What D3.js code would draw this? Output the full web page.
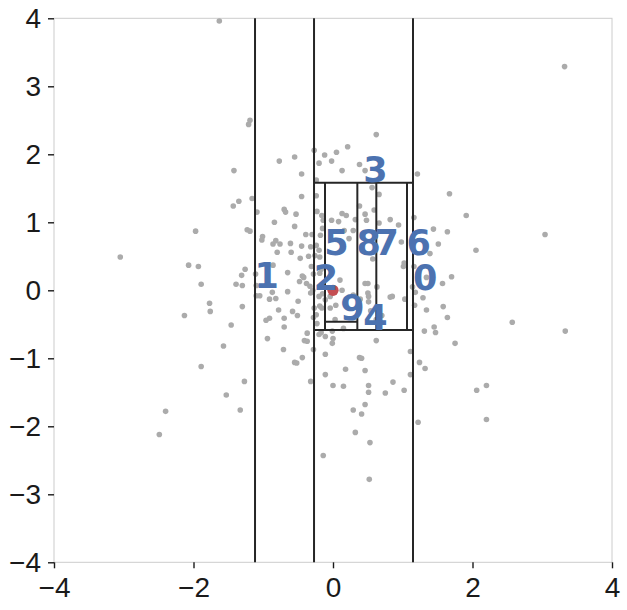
<!DOCTYPE html>
<html><head><meta charset="utf-8">
<script src="https://cdn.jsdelivr.net/npm/d3@7"></script>
<style>body{margin:0;background:#fff}</style>
</head><body><div id="chart"></div>
<script>
// ---- data ----
const grayPoints = [
[-1.63,3.96],[-1.21,2.44],[-1.19,2.50],[-1.42,1.76],[-1.43,1.24],[-1.35,1.31],[-1.16,1.35],[-1.09,1.15],[-0.77,1.90],[-0.55,1.96],
[-0.45,1.71],[-0.45,1.38],[-0.70,1.19],[-0.68,1.15],[-0.53,1.12],[-0.84,1.00],[-0.55,0.94],[-0.39,0.82],[-0.30,0.82],[-1.97,0.87],
[-1.23,0.89],[-1.19,0.87],[-1.01,0.79],[-1.02,0.74],[-0.82,0.73],[-0.86,0.68],[-0.76,0.68],[-0.61,0.69],[-0.45,0.65],[-0.32,0.64],
[-0.80,0.56],[-0.60,0.56],[-0.47,0.47],[-0.35,0.50],[-3.05,0.49],[-2.07,0.37],[-1.93,0.35],[-1.89,0.09],[-1.26,0.31],[-1.31,0.22],
[-1.39,0.09],[-1.30,0.07],[-1.11,0.24],[-1.10,0.07],[-0.86,0.37],[-0.65,0.26],[-0.44,0.21],[-0.42,0.19],[-0.48,0.13],[-0.38,0.10],
[-0.33,0.06],[-0.87,-0.03],[-0.65,-0.02],[-1.10,-0.08],[-1.05,-0.08],[-0.91,-0.13],[-0.82,-0.12],[-0.50,-0.16],[-0.32,-0.04],[-1.30,-0.24],
[-1.77,-0.19],[-1.76,-0.31],[-2.13,-0.37],[-1.46,-0.51],[-1.57,-0.82],[-1.89,-1.12],[-1.27,-1.34],[-1.53,-1.54],[-1.33,-1.76],[-2.40,-1.78],
[-2.49,-2.12],[-0.78,-0.29],[-0.58,-0.31],[-0.51,-0.37],[-0.96,-0.44],[-0.91,-0.41],[-0.70,-0.41],[-0.70,-0.54],[-0.94,-0.71],[-0.71,-0.87],
[-0.41,-0.74],[-0.37,-0.75],[-0.44,-0.99],[-0.55,-1.06],[-0.52,-1.07],[-0.32,-1.34],[-0.37,-0.63],[-0.28,-0.87],[-0.28,-0.40],[-0.27,-0.26],
[-0.19,-0.23],[-0.23,-0.49],[-0.20,-0.65],[-0.17,-0.62],
[-0.27,2.06],[-0.20,1.87],[-0.12,1.99],[-0.02,1.90],[0.05,2.03],[0.21,2.11],[0.13,1.76],[0.38,1.85],[0.46,1.76],[0.62,2.29],
[0.56,1.51],[0.66,1.41],[1.21,1.71],[-0.24,1.62],[-0.24,1.39],[0.38,1.24],[0.59,1.18],[0.46,1.12],[0.48,1.03],[0.32,1.04],
[0.13,1.13],[0.19,1.10],[-0.02,1.03],[0.08,1.01],[-0.23,1.16],[-0.16,1.10],[-0.14,1.03],[0.66,0.99],[0.82,1.04],[0.94,0.96],
[0.23,0.76],[0.29,0.88],[0.16,0.88],[-0.15,0.91],[-0.24,0.66],[-0.20,0.59],[-0.26,0.51],[-0.19,0.49],[-0.17,0.31],[-0.18,0.81],
[-0.31,0.35],[-0.28,0.24],[-0.19,0.25],[-0.29,0.00],[0.10,0.15],[0.13,0.00],[0.46,0.10],[0.50,0.10],[0.63,0.05],[0.50,-0.04],
[0.51,-0.09],[0.57,0.46],[-0.15,-0.05],[-0.20,-0.09],[-0.04,-0.09],
[1.16,1.07],[1.67,1.42],[1.91,1.10],[1.44,0.90],[1.64,0.86],[0.98,0.71],[1.51,0.68],[1.39,0.54],[1.02,0.40],[1.01,0.35],
[1.16,0.35],[1.34,0.19],[1.70,0.20],[1.57,0.10],[1.14,0.05],[1.18,-0.03],[0.85,-0.09],[0.82,-0.10],[1.03,-0.13],[1.29,-0.11],
[2.05,0.59],[3.04,0.82],[3.32,3.29],[1.17,-0.22],[1.34,-0.29],[1.58,-0.24],[1.64,-0.40],[1.45,-0.54],[1.47,-0.62],[1.31,-0.60],
[1.75,-0.78],[1.11,-0.90],[1.24,-1.06],[1.32,-1.15],[1.11,-1.24],[0.86,-1.35],[1.02,-1.47],[1.22,-1.94],[2.57,-0.47],[3.33,-0.60],
[2.06,-1.47],[2.20,-1.40],[2.20,-1.90],[0.75,-1.51],[0.51,-1.40],[0.51,-1.50],[0.46,-1.18],[0.46,-1.68],[0.41,-1.82],[0.29,-1.76],
[0.32,-2.09],[0.53,-2.24],[0.52,-2.78],[-0.14,-2.43],[0.15,-1.41],[0.00,-1.40],[0.18,-1.16],[-0.11,-1.24],[-0.11,-0.94],[0.38,-0.99],
[0.41,-1.00],[0.62,-0.74],[-0.01,-0.78],[0.00,-0.71],[-0.01,-0.60],[-0.11,-0.68],[0.15,-0.56],[0.03,-0.43],[-0.16,-0.26],[-0.04,-0.26],
[0.04,-0.22],[0.39,-0.13],[0.29,-0.07],[0.51,-0.17],[-0.24,-0.36],[0.54,-0.30],[0.70,-0.37],[0.62,-0.43],[-0.11,-0.14]
];
const queryPoint = [0.0, 0.0];

// k-d tree split segments (data units)
const verticalSplits = [
  {x: -1.118, y0: -4, y1: 4},
  {x: -0.272, y0: -4, y1: 4},
  {x:  1.147, y0: -4, y1: 4},
  {x: -0.115, y0: -0.584, y1: 1.582},
  {x:  0.349, y0: -0.584, y1: 1.582},
  {x:  0.621, y0: -0.584, y1: 1.582},
  {x:  1.061, y0: -0.584, y1: 1.582}
];
const horizontalSplits = [
  {y:  1.582, x0: -0.272, x1: 1.147},
  {y: -0.584, x0: -0.272, x1: 1.147},
  {y: -0.462, x0: -0.115, x1: 0.349}
];

const nodeLabels = ["0","1","2","3","4","5","6","7","8","9"];
const nodeX = [1.32, -0.95, -0.10, 0.61, 0.61, 0.05, 1.23, 0.77, 0.51, 0.28];
const nodeY = [0.00, 0.03, 0.00, 1.60, -0.58, 0.52, 0.52, 0.52, 0.52, -0.44];

const xTicks = [-4, -2, 0, 2, 4];
const yTicks = [-4, -3, -2, -1, 0, 1, 2, 3, 4];

// ---- chart ----
const W = 627, H = 610;
const plotLeft = 54, plotRight = 612, plotTop = 18.3, plotBottom = 562.3;
const svg = d3.select("#chart").append("svg").attr("width", W).attr("height", H);

const x = d3.scaleLinear().domain([-4, 4]).range([plotLeft, plotRight]);
const y = d3.scaleLinear().domain([-4, 4]).range([plotBottom, plotTop]);

svg.append("rect").attr("x", plotLeft).attr("y", plotTop)
  .attr("width", plotRight - plotLeft).attr("height", plotBottom - plotTop)
  .attr("fill", "none").attr("stroke", "#cccccc").attr("stroke-width", 1);

const fmt = d3.format("d");
const gx = svg.append("g").attr("transform", `translate(0,${plotBottom})`)
  .call(d3.axisBottom(x).tickValues(xTicks).tickSize(6).tickPadding(9).tickFormat(fmt));
const gy = svg.append("g").attr("transform", `translate(${plotLeft},0)`)
  .call(d3.axisLeft(y).tickValues(yTicks).tickSize(6).tickPadding(7).tickFormat(fmt));
[gx, gy].forEach(g => {
  g.select(".domain").remove();
  g.selectAll(".tick line").attr("stroke", "#1a1a1a").attr("stroke-width", 1.4);
  g.selectAll(".tick text").attr("fill", "#1a1a1a")
    .style("font-family", "'Liberation Sans', Arial, sans-serif").style("font-size", "28px");
});

svg.append("g").selectAll("circle").data(grayPoints).join("circle")
  .attr("cx", d => x(d[0])).attr("cy", d => y(d[1])).attr("r", 2.8)
  .attr("fill", "#ababab");

const lines = svg.append("g").attr("stroke", "#262626").attr("stroke-width", 2);
lines.selectAll("line.v").data(verticalSplits).join("line").attr("class", "v")
  .attr("x1", d => x(d.x)).attr("x2", d => x(d.x))
  .attr("y1", d => y(d.y0)).attr("y2", d => y(d.y1));
lines.selectAll("line.h").data(horizontalSplits).join("line").attr("class", "h")
  .attr("x1", d => x(d.x0)).attr("x2", d => x(d.x1))
  .attr("y1", d => y(d.y)).attr("y2", d => y(d.y));

svg.append("circle").attr("cx", x(queryPoint[0])).attr("cy", y(queryPoint[1]))
  .attr("r", 5.6).attr("fill", "#c44e52");

svg.append("g").selectAll("text").data(nodeLabels).join("text")
  .attr("x", (d, i) => x(nodeX[i])).attr("y", (d, i) => y(nodeY[i]))
  .attr("text-anchor", "middle")
  .style("font-family", "'DejaVu Sans', sans-serif").style("font-weight", "bold")
  .style("font-size", "35px").attr("fill", "#4c72b0")
  .text(d => d);
</script></body></html>
